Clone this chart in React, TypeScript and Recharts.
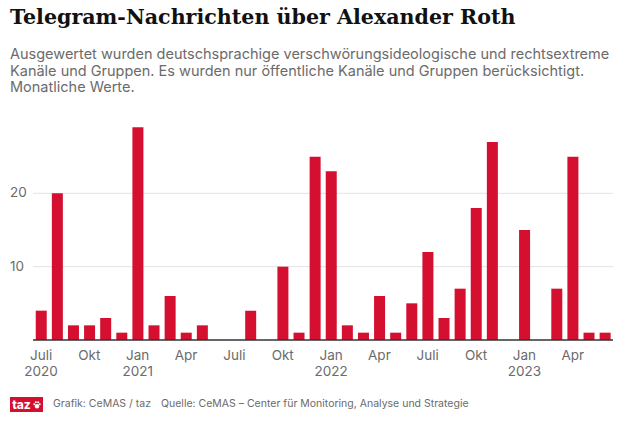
import { BarChart, Bar, XAxis, YAxis, CartesianGrid } from 'recharts';

const months = [
  '2020-07', '2020-08', '2020-09', '2020-10', '2020-11', '2020-12',
  '2021-01', '2021-02', '2021-03', '2021-04', '2021-05', '2021-06',
  '2021-07', '2021-08', '2021-09', '2021-10', '2021-11', '2021-12',
  '2022-01', '2022-02', '2022-03', '2022-04', '2022-05', '2022-06',
  '2022-07', '2022-08', '2022-09', '2022-10', '2022-11', '2022-12',
  '2023-01', '2023-02', '2023-03', '2023-04', '2023-05', '2023-06',
];

const messages = [
  4, 20, 2, 2, 3, 1,
  29, 2, 6, 1, 2, 0,
  0, 4, 0, 10, 1, 25,
  23, 2, 1, 6, 1, 5,
  12, 3, 7, 18, 27, 0,
  15, 0, 7, 25, 1, 1,
];

const yTicks = [10, 20];

// month -> [label, optional year line]
const tickLabels: Record<string, string[]> = {
  '2020-07': ['Juli', '2020'],
  '2020-10': ['Okt'],
  '2021-01': ['Jan', '2021'],
  '2021-04': ['Apr'],
  '2021-07': ['Juli'],
  '2021-10': ['Okt'],
  '2022-01': ['Jan', '2022'],
  '2022-04': ['Apr'],
  '2022-07': ['Juli'],
  '2022-10': ['Okt'],
  '2023-01': ['Jan', '2023'],
  '2023-04': ['Apr'],
};

const data = months.map((m, i) => ({ month: m, value: messages[i] }));

const GREY = '#6b6b6b';
const RED = '#d50f30';
const SANS = 'Inter, "Noto Sans", sans-serif';

const MonthTick = ({ x, y, payload }: any) => {
  const lab = tickLabels[payload.value];
  if (!lab) return <g />;
  return (
    <text x={x} y={y} textAnchor="middle" fill={GREY} fontSize={13.5} fontFamily={SANS}>
      <tspan x={x} dy={12}>{lab[0]}</tspan>
      {lab[1] && <tspan x={x} dy={16}>{lab[1]}</tspan>}
    </text>
  );
};

const ValueTick = ({ y, payload }: any) => (
  <text x={10} y={y} dy={4} fill={GREY} fontSize={13.5} fontFamily={SANS}>
    {payload.value}
  </text>
);

export default function App() {
  return (
    <div style={{ position: 'absolute', left: 0, top: 0, width: 624, height: 423, background: '#fff', overflow: 'hidden' }}>
      <div style={{ position: 'absolute', left: 10, top: 5, fontFamily: '"DejaVu Serif", serif', fontWeight: 'bold', fontSize: 20.6, color: '#111', whiteSpace: 'nowrap' }}>
        Telegram-Nachrichten über Alexander Roth
      </div>
      <div style={{ position: 'absolute', left: 10, top: 46, width: 614, fontFamily: SANS, fontSize: 14.5, lineHeight: '16.6px', color: GREY }}>
        Ausgewertet wurden deutschsprachige verschwörungsideologische und rechtsextreme Kanäle und Gruppen. Es wurden nur öffentliche Kanäle und Gruppen berücksichtigt. Monatliche Werte.
      </div>

      <div style={{ position: 'absolute', left: 0, top: 100 }}>
        <BarChart width={624} height={290} data={data} margin={{ top: 20, right: 11, bottom: 10, left: 0 }} barCategoryGap="17%">
          <CartesianGrid vertical={false} stroke="#e2e2e2" horizontalValues={yTicks} />
          <XAxis dataKey="month" interval={0} tick={<MonthTick />} tickLine={false} axisLine={{ stroke: '#333', strokeWidth: 1.5 }} height={40} />
          <YAxis domain={[0, 30]} ticks={yTicks} tick={<ValueTick />} tickLine={false} axisLine={false} width={33} />
          <Bar dataKey="value" fill={RED} isAnimationActive={false} />
        </BarChart>
      </div>

      <div style={{ position: 'absolute', left: 10, top: 397, width: 33, height: 15, background: RED, display: 'flex', alignItems: 'center', justifyContent: 'center', gap: 2 }}>
        <span style={{ color: '#fff', fontFamily: SANS, fontWeight: 800, fontSize: 12, lineHeight: '15px' }}>taz</span>
        <svg width={8} height={8} viewBox="0 0 8 8">
          <circle cx={4} cy={5.3} r={2.2} fill="#fff" />
          <circle cx={1.3} cy={3.3} r={1} fill="#fff" />
          <circle cx={6.7} cy={3.3} r={1} fill="#fff" />
          <circle cx={2.8} cy={1.3} r={1} fill="#fff" />
          <circle cx={5.2} cy={1.3} r={1} fill="#fff" />
        </svg>
      </div>
      <div style={{ position: 'absolute', left: 53, top: 396, fontFamily: SANS, fontSize: 10.5, lineHeight: '16px', color: GREY, whiteSpace: 'nowrap' }}>
        Grafik: CeMAS / taz
        <span style={{ marginLeft: 10 }}>Quelle: CeMAS – Center für Monitoring, Analyse und Strategie</span>
      </div>
    </div>
  );
}
